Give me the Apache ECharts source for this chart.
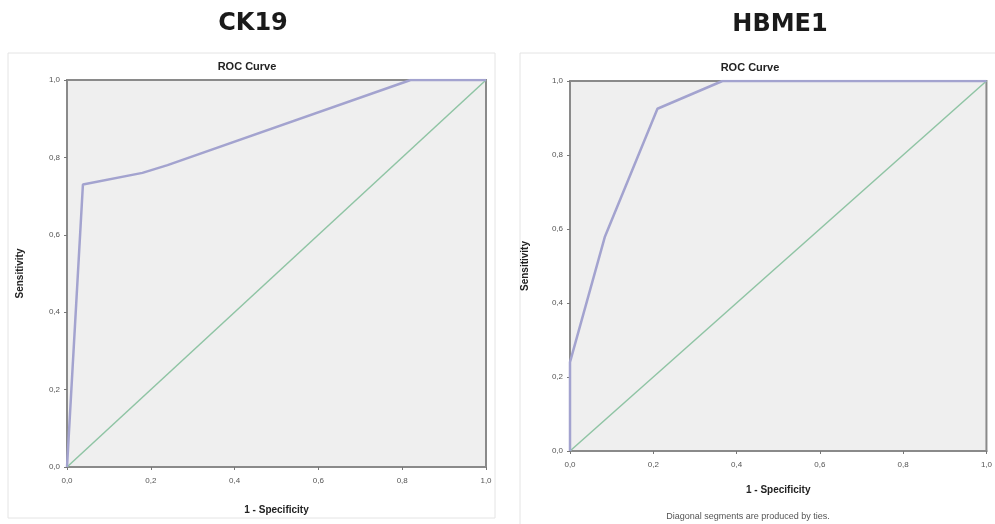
<!DOCTYPE html>
<html>
<head>
<meta charset="utf-8">
<script src="https://cdn.jsdelivr.net/npm/echarts@6/dist/echarts.min.js"></script>
<style>html,body{margin:0;padding:0;background:#fff;}#c{width:995px;height:524px;}</style>
</head>
<body>
<div id="c"></div>
<script>
// Data
const ck19FPR = [0, 0.038, 0.18, 0.24, 0.82, 1];
const ck19TPR = [0, 0.73, 0.76, 0.78, 1, 1];
const hbme1FPR = [0, 0, 0.084, 0.21, 0.366, 1];
const hbme1TPR = [0, 0.24, 0.58, 0.925, 1, 1];
const diagX = [0, 1];
const diagY = [0, 1];
const panelTitles = ['CK19', 'HBME1'];
const chartTitle = 'ROC Curve';
const xName = '1 - Specificity';
const yName = 'Sensitivity';
const footnote = 'Diagonal segments are produced by ties.';

const pairs = (xs, ys) => xs.map((x, i) => [x, ys[i]]);
const fmt = v => v.toFixed(1).replace('.', ',');

const chart = echarts.init(document.getElementById('c'), null, {renderer: 'canvas'});

const axisCommon = {
  type: 'value', min: 0, max: 1, interval: 0.2,
  axisLine: {show: true, lineStyle: {color: '#8a8a8a', width: 2}},
  axisTick: {show: true, length: 3, lineStyle: {color: '#777', width: 1}},
  splitLine: {show: false},
  axisLabel: {formatter: fmt, fontSize: 8, color: '#555', fontFamily: 'Liberation Sans'},
  nameLocation: 'middle',
  nameTextStyle: {fontSize: 10, fontWeight: 'bold', color: '#222', fontFamily: 'Liberation Sans'}
};

const gridStyle = {show: true, backgroundColor: '#efefef', borderColor: '#8a8a8a', borderWidth: 2};

const option = {
  backgroundColor: '#ffffff',
  animation: false,
  grid: [
    Object.assign({left: 67, top: 80, width: 419, height: 387}, gridStyle),
    Object.assign({left: 570, top: 81, width: 418, height: 370}, gridStyle)
  ],
  xAxis: [
    Object.assign({}, axisCommon, {gridIndex: 0, name: xName, nameGap: 38, axisLabel: Object.assign({}, axisCommon.axisLabel, {margin: 10})}),
    Object.assign({}, axisCommon, {gridIndex: 1, name: xName, nameGap: 34, axisLabel: Object.assign({}, axisCommon.axisLabel, {margin: 10})})
  ],
  yAxis: [
    Object.assign({}, axisCommon, {gridIndex: 0, name: yName, nameGap: 42, axisLabel: Object.assign({}, axisCommon.axisLabel, {margin: 7})}),
    Object.assign({}, axisCommon, {gridIndex: 1, name: yName, nameGap: 40, axisLabel: Object.assign({}, axisCommon.axisLabel, {margin: 7})})
  ],
  graphic: [
    {type: 'rect', shape: {x: 8, y: 53, width: 487, height: 465}, style: {fill: 'none', stroke: '#e4e4e4', lineWidth: 1}, z: -1},
    {type: 'rect', shape: {x: 520, y: 53, width: 480, height: 480}, style: {fill: 'none', stroke: '#e4e4e4', lineWidth: 1}, z: -1},
    {type: 'text', x: 253, y: 24, style: {text: panelTitles[0], fontSize: 24, fontWeight: 'bold', fontFamily: 'DejaVu Sans', fill: '#1a1a1a', align: 'center', verticalAlign: 'middle'}},
    {type: 'text', x: 780, y: 25, style: {text: panelTitles[1], fontSize: 24, fontWeight: 'bold', fontFamily: 'DejaVu Sans', fill: '#1a1a1a', align: 'center', verticalAlign: 'middle'}},
    {type: 'text', x: 247, y: 67, style: {text: chartTitle, fontSize: 11, fontWeight: 'bold', fontFamily: 'Liberation Sans', fill: '#222', align: 'center', verticalAlign: 'middle'}},
    {type: 'text', x: 750, y: 68, style: {text: chartTitle, fontSize: 11, fontWeight: 'bold', fontFamily: 'Liberation Sans', fill: '#222', align: 'center', verticalAlign: 'middle'}},
    {type: 'text', x: 748, y: 517, style: {text: footnote, fontSize: 9, fontFamily: 'Liberation Sans', fill: '#555', align: 'center', verticalAlign: 'middle'}}
  ],
  series: [
    {type: 'line', xAxisIndex: 0, yAxisIndex: 0, data: pairs(diagX, diagY), showSymbol: false, lineStyle: {color: '#8fc4a4', width: 1.5}, z: 2},
    {type: 'line', xAxisIndex: 0, yAxisIndex: 0, data: pairs(ck19FPR, ck19TPR), showSymbol: false, lineStyle: {color: '#a3a3cf', width: 2.5}, z: 3},
    {type: 'line', xAxisIndex: 1, yAxisIndex: 1, data: pairs(diagX, diagY), showSymbol: false, lineStyle: {color: '#8fc4a4', width: 1.5}, z: 2},
    {type: 'line', xAxisIndex: 1, yAxisIndex: 1, data: pairs(hbme1FPR, hbme1TPR), showSymbol: false, lineStyle: {color: '#a3a3cf', width: 2.5}, z: 3}
  ]
};
chart.setOption(option);
</script>
</body>
</html>
